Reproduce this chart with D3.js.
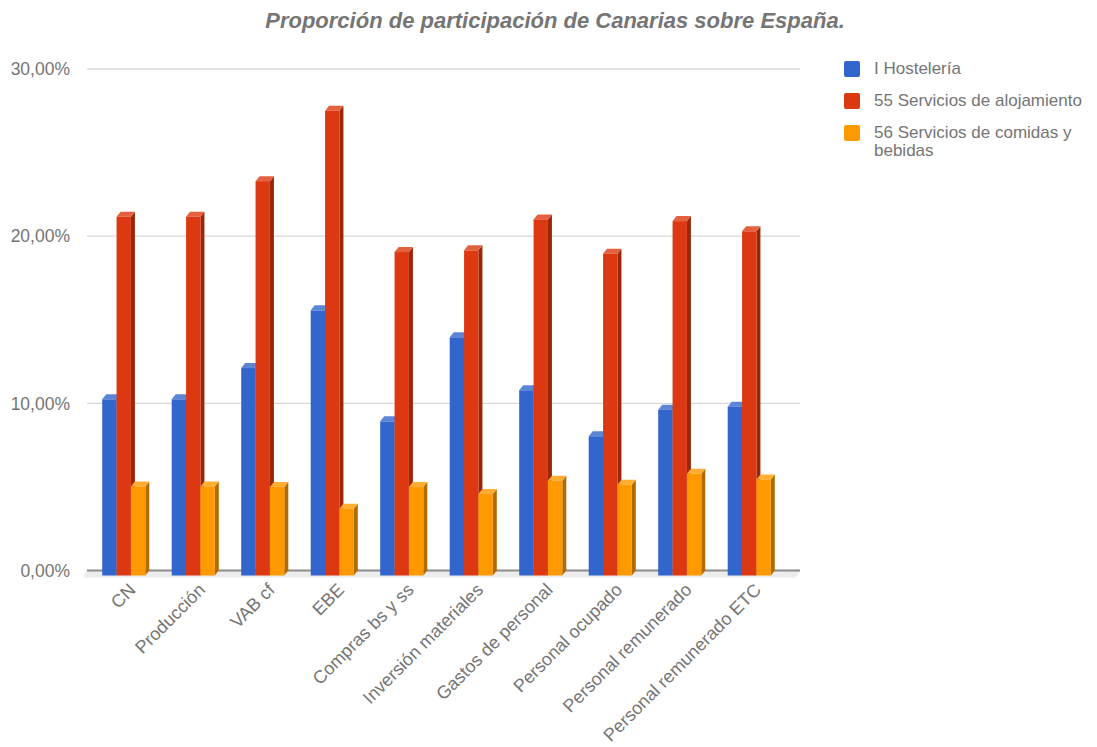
<!DOCTYPE html>
<html lang="es">
<head>
<meta charset="UTF-8">
<title>Proporción de participación de Canarias sobre España</title>
<style>
  body { margin: 0; background: #fff; font-family: "Liberation Sans", Arial, sans-serif; }
  text { font-family: "Liberation Sans", Arial, sans-serif; }
</style>
</head>
<body>
<svg width="1097" height="747"></svg>
<script src="https://d3js.org/d3.v7.min.js"></script>
<script>
// categorias del eje X
const categorias = ["CN", "Producción", "VAB cf", "EBE", "Compras bs y ss", "Inversión materiales",
  "Gastos de personal", "Personal ocupado", "Personal remunerado", "Personal remunerado ETC"];

// series (%)
const series = ["I Hostelería", "55 Servicios de alojamiento", "56 Servicios de comidas y bebidas"];
const hosteleria = [10.54, 10.54, 12.41, 15.86, 9.22, 14.25, 11.08, 8.33, 9.92, 10.10];
const alojamiento = [21.46, 21.46, 23.59, 27.80, 19.35, 19.45, 21.30, 19.25, 21.20, 20.59];
const comidas = [5.33, 5.33, 5.29, 4.00, 5.29, 4.87, 5.67, 5.43, 6.09, 5.75];
const valores = [hosteleria, alojamiento, comidas];

const yTicks = [0, 10, 20, 30];

const colores = ["#3366cc", "#dc3912", "#ff9900"];
const lados = ["#24478f", "#9a2808", "#b36b00"];
const techos = ["#5c85d6", "#e3613f", "#ffad33"];

const svg = d3.select("svg");

// profundidad 3D (de la cara frontal al plano del fondo)
const dx = 4, dy = -5;

const y = d3.scaleLinear().domain([0, 30]).range([570.5, 69]);
const x0 = d3.scaleBand().domain(categorias).range([89, 784]).paddingInner(0.38).paddingOuter(0.19);
const x1 = d3.scaleBand().domain(d3.range(series.length)).range([0, x0.bandwidth()]);

const fmt = v => d3.format(".2f")(v).replace(".", ",") + "%";

// titulo
svg.append("text")
  .attr("x", 555).attr("y", 28)
  .attr("text-anchor", "middle")
  .attr("font-size", 22).attr("font-weight", "bold").attr("font-style", "italic")
  .attr("fill", "#757575")
  .text("Proporción de participación de Canarias sobre España.");

// suelo
const xl = 87, xr = 800;
svg.append("path")
  .attr("d", `M${xl},${y(0)}L${xr},${y(0)}L${xr - dx},${y(0) - dy + 2}L${xl - dx},${y(0) - dy + 2}Z`)
  .attr("fill", "#ececec");

// lineas de cuadricula
svg.append("g").selectAll("line")
  .data(yTicks.filter(d => d > 0))
  .join("line")
  .attr("x1", xl).attr("x2", xr)
  .attr("y1", d => y(d)).attr("y2", d => y(d))
  .attr("stroke", "#d9d9d9").attr("stroke-width", 1.3);

svg.append("line")
  .attr("x1", xl).attr("x2", xr)
  .attr("y1", y(0)).attr("y2", y(0))
  .attr("stroke", "#8c8c8c").attr("stroke-width", 2);

// etiquetas eje Y
svg.append("g").selectAll("text")
  .data(yTicks)
  .join("text")
  .attr("x", 70).attr("y", d => y(d))
  .attr("dy", "0.36em")
  .attr("text-anchor", "end")
  .attr("font-size", 17.5).attr("fill", "#757575")
  .text(fmt);

// barras 3D
const yf = v => y(v) - dy; // coordenada frontal
const barras = [];
categorias.forEach((c, i) => {
  valores.forEach((serie, s) => {
    barras.push({ c, s, v: serie[i] });
  });
});

const g = svg.append("g");
barras.forEach(b => {
  const xa = x0(b.c) + x1(b.s);
  const w = x1.bandwidth();
  const top = yf(b.v), bot = yf(0);
  const gb = g.append("g");
  // lateral
  gb.append("path")
    .attr("d", `M${xa + w},${top}L${xa + w + dx},${top + dy}L${xa + w + dx},${bot + dy}L${xa + w},${bot}Z`)
    .attr("fill", lados[b.s]);
  // techo
  gb.append("path")
    .attr("d", `M${xa},${top}L${xa + dx},${top + dy}L${xa + w + dx},${top + dy}L${xa + w},${top}Z`)
    .attr("fill", techos[b.s]);
  // frente
  gb.append("rect")
    .attr("x", xa).attr("y", top)
    .attr("width", w).attr("height", bot - top)
    .attr("fill", colores[b.s]);
});

// etiquetas eje X
svg.append("g").selectAll("text")
  .data(categorias)
  .join("text")
  .attr("transform", d => `translate(${x0(d) + x0.bandwidth() / 2 + 13},${591}) rotate(-45)`)
  .attr("text-anchor", "end")
  .attr("font-size", 18).attr("fill", "#757575")
  .text(d => d);

// leyenda
const leyenda = svg.append("g").attr("transform", "translate(844,61)");
const lineas = [["I Hostelería"], ["55 Servicios de alojamiento"], ["56 Servicios de comidas y", "bebidas"]];
lineas.forEach((l, i) => {
  const gi = leyenda.append("g").attr("transform", `translate(0,${i * 32})`);
  gi.append("rect").attr("width", 16).attr("height", 16).attr("rx", 2).attr("fill", colores[i]);
  gi.selectAll("text").data(l).join("text")
    .attr("x", 30).attr("y", (d, j) => 13 + j * 18)
    .attr("font-size", 17).attr("fill", "#757575")
    .text(d => d);
});
</script>
</body>
</html>
